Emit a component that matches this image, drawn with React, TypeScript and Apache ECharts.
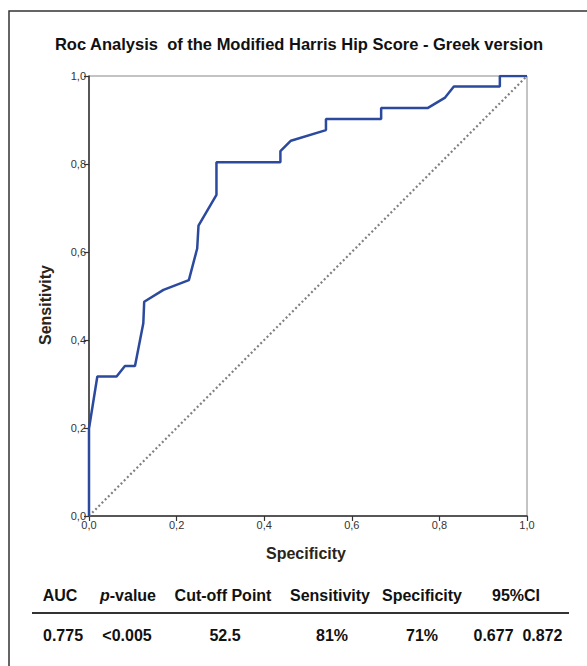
import React, { useEffect, useRef } from "react";
import * as echarts from "echarts";

const titleText = "Roc Analysis  of the Modified Harris Hip Score - Greek version";
const xAxisTitle = "Specificity";
const yAxisTitle = "Sensitivity";

// ROC curve points (x = Specificity axis value, y = Sensitivity)
const rocX = [0, 0, 0.019, 0.063, 0.082, 0.105, 0.124, 0.126, 0.17, 0.228, 0.247, 0.25, 0.291, 0.291, 0.437, 0.437, 0.461, 0.541, 0.541, 0.667, 0.667, 0.773, 0.813, 0.833, 0.938, 0.938, 1.0];
const rocY = [0, 0.199, 0.317, 0.317, 0.341, 0.341, 0.438, 0.487, 0.514, 0.536, 0.608, 0.66, 0.73, 0.804, 0.804, 0.829, 0.853, 0.877, 0.902, 0.902, 0.927, 0.927, 0.951, 0.976, 0.976, 1.0, 1.0];
const refX = [0, 1];
const refY = [0, 1];

const tableHeaders = ["AUC", "p-value", "Cut-off Point", "Sensitivity", "Specificity", "95%CI"];
const tableValues = ["0.775", "<0.005", "52.5", "81%", "71%", "0.677  0.872"];

export default function App() {
  const ref = useRef<HTMLDivElement>(null);
  useEffect(() => {
    document.body.style.margin = "0";
    const chart = echarts.init(ref.current!, null, { renderer: "svg" });
    const headerX = [60, 128, 223, 330, 422, 516];
    const valueX = [63, 127, 225, 332, 422, 518];
    const font = "Arial, 'Liberation Sans', sans-serif";
    const graphics: any[] = [
      {
        type: "rect",
        shape: { x: 9, y: 11, width: 640, height: 720 },
        style: { fill: "none", stroke: "#333", lineWidth: 1.5 },
        silent: true,
      },
      {
        type: "text",
        x: 299,
        y: 44,
        style: {
          text: titleText,
          font: `bold 16.5px ${font}`,
          fill: "#111",
          textAlign: "center",
          textVerticalAlign: "middle",
          align: "center",
          verticalAlign: "middle",
        },
      },
      {
        type: "text",
        x: 45,
        y: 305,
        rotation: Math.PI / 2,
        style: {
          text: yAxisTitle,
          font: `bold 16px ${font}`,
          fill: "#2b2418",
          textAlign: "center",
          textVerticalAlign: "middle",
          align: "center",
          verticalAlign: "middle",
        },
      },
      {
        type: "text",
        x: 306,
        y: 553,
        style: {
          text: xAxisTitle,
          font: `bold 16px ${font}`,
          fill: "#2b2418",
          textAlign: "center",
          textVerticalAlign: "middle",
          align: "center",
          verticalAlign: "middle",
        },
      },
      {
        type: "line",
        shape: { x1: 32, y1: 613, x2: 569, y2: 613 },
        style: { stroke: "#333", lineWidth: 2 },
      },
    ];
    tableHeaders.forEach((h, i) => {
      const isP = h.startsWith("p-");
      graphics.push({
        type: "text",
        x: headerX[i],
        y: 595,
        style: isP
          ? {
              text: "{i|p}{n|-value}",
              rich: {
                i: { font: `italic bold 16px ${font}`, fill: "#111" },
                n: { font: `bold 16px ${font}`, fill: "#111" },
              },
              textAlign: "center",
              textVerticalAlign: "middle",
              align: "center",
              verticalAlign: "middle",
            }
          : {
              text: h,
              font: `bold 16px ${font}`,
              fill: "#111",
              textAlign: "center",
              textVerticalAlign: "middle",
              align: "center",
              verticalAlign: "middle",
            },
      });
    });
    tableValues.forEach((v, i) => {
      graphics.push({
        type: "text",
        x: valueX[i],
        y: 635,
        style: {
          text: v,
          font: `bold 16px ${font}`,
          fill: "#111",
          textAlign: "center",
          textVerticalAlign: "middle",
          align: "center",
          verticalAlign: "middle",
        },
      });
    });

    const fmt = (v: number) => v.toFixed(1).replace(".", ",");
    const axisCommon = {
      type: "value" as const,
      min: 0,
      max: 1,
      interval: 0.2,
      axisLine: { show: true, onZero: false, lineStyle: { color: "#333", width: 1.5 } },
      axisTick: { show: true, length: 5, lineStyle: { color: "#333", width: 1.2 } },
      axisLabel: { formatter: fmt, fontSize: 11, color: "#333", fontFamily: font, margin: 3 },
      splitLine: { show: false },
    };

    chart.setOption({
      animation: false,
      backgroundColor: "#fff",
      grid: {
        left: 89,
        top: 76,
        width: 438,
        height: 440,
        show: true,
        borderColor: "#888",
        borderWidth: 1,
        backgroundColor: "transparent",
      },
      xAxis: { ...axisCommon },
      yAxis: { ...axisCommon },
      graphic: graphics,
      series: [
        {
          type: "line",
          data: refX.map((x, i) => [x, refY[i]]),
          symbol: "none",
          lineStyle: { color: "#808080", width: 2.2, type: [2, 2.5] },
          z: 2,
        },
        {
          type: "line",
          data: rocX.map((x, i) => [x, rocY[i]]),
          symbol: "none",
          lineStyle: { color: "#2b4a9e", width: 2.5 },
          z: 3,
        },
      ],
    });
    return () => chart.dispose();
  }, []);
  return <div ref={ref} style={{ width: 587, height: 666 }} />;
}
